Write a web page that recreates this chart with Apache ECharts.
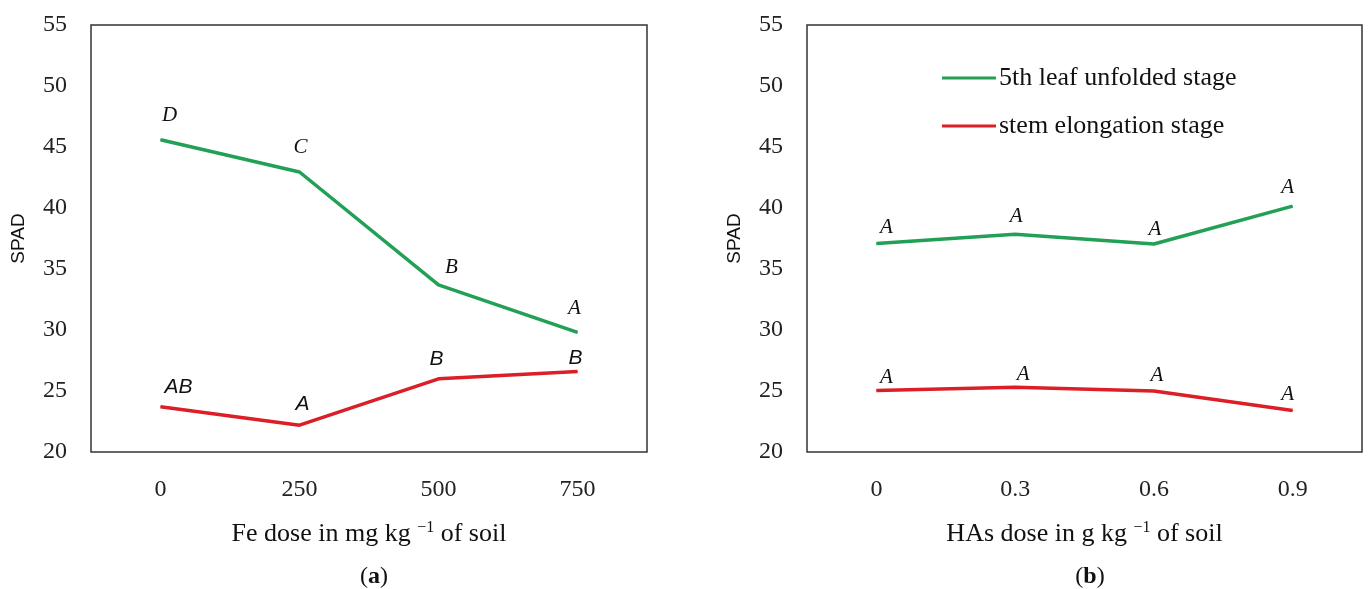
<!DOCTYPE html>
<html>
<head>
<meta charset="utf-8">
<script src="https://cdn.jsdelivr.net/npm/echarts@6/dist/echarts.min.js"></script>
<style>
html,body{margin:0;padding:0;background:#fff;}
#c{width:1368px;height:589px;}
</style>
</head>
<body>
<div id="c"></div>
<script>
// ---- data ----
const feDoses = ['0', '250', '500', '750'];
const hasDoses = ['0', '0.3', '0.6', '0.9'];
const seriesNames = ['5th leaf unfolded stage', 'stem elongation stage'];
const feLeaf5 = [45.6, 42.95, 33.7, 29.8];
const feStem = [23.7, 22.2, 26.0, 26.6];
const feLeaf5Letters = ['D', 'C', 'B', 'A'];
const feStemLetters = ['AB', 'A', 'B', 'B'];
const hasLeaf5 = [37.1, 37.85, 37.05, 40.15];
const hasStem = [25.05, 25.3, 25.0, 23.4];
const hasLeaf5Letters = ['A', 'A', 'A', 'A'];
const hasStemLetters = ['A', 'A', 'A', 'A'];
const yTicks = [20, 25, 30, 35, 40, 45, 50, 55];

// ---- style ----
const GREEN = '#22a055';
const RED = '#dc1e26';
const SERIF = '"Liberation Serif", "DejaVu Serif", serif';
const SANS = '"Liberation Sans", Arial, sans-serif';
const feLeafOff = [[9, -4], [1, -5], [13, 3], [-3, -4]];
const feStemOff = [[18, 0], [3, -1], [-2, 0], [-2, 7]];
const hasLeafOff = [[10, 4], [1, 2], [1, 5], [-5, 1]];
const hasStemOff = [[10, 7], [8, 7], [3, 4], [-5, 4]];

function labelled(values, letters, offs, font) {
  return values.map((v, i) => ({
    value: v,
    label: {
      show: true, position: 'top', distance: 9,
      formatter: letters[i],
      offset: offs[i],
      fontFamily: font, fontStyle: 'italic', fontSize: 21, color: '#111'
    }
  }));
}

const gridBase = { top: 25, height: 427, show: true, borderColor: '#333', borderWidth: 1.5, backgroundColor: '#fff' };

function xAx(idx, cats, nameParts) {
  return {
    type: 'category', gridIndex: idx, data: cats, boundaryGap: true,
    axisLine: { show: false }, axisTick: { show: false },
    axisLabel: { margin: 26, fontFamily: SERIF, fontSize: 24, color: '#222' },
    name: '{a|' + nameParts[0] + '}{s|−1}{a|' + nameParts[1] + '}',
    nameLocation: 'middle', nameGap: 68,
    nameTextStyle: {
      rich: {
        a: { fontFamily: SERIF, fontSize: 26, color: '#111', lineHeight: 28 },
        s: { fontFamily: SERIF, fontSize: 16, color: '#111', padding: [0, 0, 12, 0], lineHeight: 28 }
      }
    }
  };
}
function yAx(idx) {
  return {
    type: 'value', gridIndex: idx, min: 20, max: 55, interval: 5,
    axisLine: { show: false }, axisTick: { show: false }, splitLine: { show: false },
    axisLabel: { margin: 24, fontFamily: SERIF, fontSize: 24, color: '#222',
      formatter: v => yTicks.includes(v) ? String(v) : '' },
    name: 'SPAD', nameLocation: 'middle', nameGap: 63, nameRotate: 90,
    nameTextStyle: { fontFamily: SANS, fontSize: 19, color: '#111' }
  };
}
function line(name, xi, data) {
  const col = name === seriesNames[0] ? GREEN : RED;
  return {
    name, type: 'line', xAxisIndex: xi, yAxisIndex: xi, data,
    showSymbol: true, symbol: 'circle', symbolSize: 1,
    lineStyle: { width: 3.5, color: col },
    itemStyle: { color: col },
    emphasis: { disabled: true }, animation: false
  };
}

const chart = echarts.init(document.getElementById('c'), null, { renderer: 'canvas' });
chart.setOption({
  backgroundColor: '#fff',
  animation: false,
  grid: [
    Object.assign({ left: 91, width: 556 }, gridBase),
    Object.assign({ left: 807, width: 555 }, gridBase)
  ],
  xAxis: [
    xAx(0, feDoses, ['Fe dose in mg kg ', ' of soil']),
    xAx(1, hasDoses, ['HAs dose in g kg ', ' of soil'])
  ],
  yAxis: [yAx(0), yAx(1)],
  legend: {
    orient: 'vertical', left: 937, top: 60, itemGap: 22,
    itemWidth: 54, itemHeight: 3, icon: 'rect',
    textStyle: { fontFamily: SERIF, fontSize: 26, color: '#111', padding: [0, 0, 0, -2] },
    data: seriesNames
  },
  title: [
    { text: '({b|a})', left: 369, top: 560, textAlign: 'center',
      textStyle: { fontFamily: SERIF, fontSize: 24, fontWeight: 'normal', color: '#111',
        rich: { b: { fontFamily: SERIF, fontSize: 24, fontWeight: 'bold', color: '#111' } } } },
    { text: '({b|b})', left: 1085, top: 560, textAlign: 'center',
      textStyle: { fontFamily: SERIF, fontSize: 24, fontWeight: 'normal', color: '#111',
        rich: { b: { fontFamily: SERIF, fontSize: 24, fontWeight: 'bold', color: '#111' } } } }
  ],
  series: [
    line(seriesNames[0], 0, labelled(feLeaf5, feLeaf5Letters, feLeafOff, SERIF)),
    line(seriesNames[1], 0, labelled(feStem, feStemLetters, feStemOff, SANS)),
    line(seriesNames[0], 1, labelled(hasLeaf5, hasLeaf5Letters, hasLeafOff, SERIF)),
    line(seriesNames[1], 1, labelled(hasStem, hasStemLetters, hasStemOff, SERIF))
  ]
});
</script>
</body>
</html>
